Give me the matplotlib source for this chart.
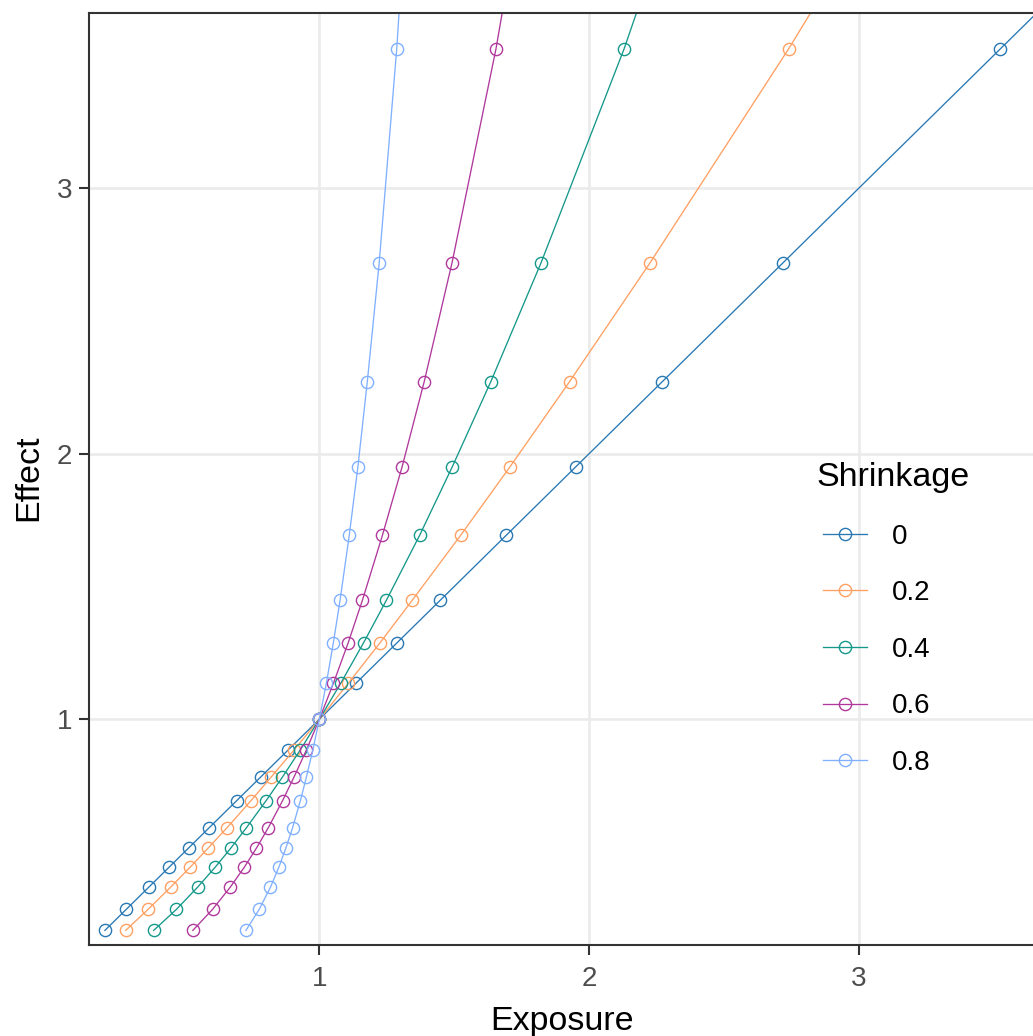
import matplotlib.pyplot as plt

plt.rcParams["font.family"] = ["Liberation Sans", "DejaVu Sans"]

# effect levels shared by every shrinkage curve (last one sits above the panel)
effect = [0.205, 0.284, 0.368, 0.443, 0.515, 0.592, 0.694, 0.782, 0.884, 1.0,
          1.135, 1.288, 1.449, 1.693, 1.951, 2.272, 2.719, 3.525, 4.88]

exposure_s0 = [0.205, 0.284, 0.368, 0.443, 0.515, 0.592, 0.694, 0.782, 0.884, 1.0,
               1.135, 1.288, 1.449, 1.693, 1.951, 2.272, 2.719, 3.525, 4.88]
exposure_s02 = [0.282, 0.365, 0.449, 0.521, 0.588, 0.658, 0.747, 0.821, 0.906, 1.0,
                1.107, 1.225, 1.345, 1.524, 1.707, 1.928, 2.226, 2.740, 3.554]
exposure_s04 = [0.386, 0.470, 0.549, 0.614, 0.672, 0.730, 0.803, 0.863, 0.929, 1.0,
                1.079, 1.164, 1.249, 1.372, 1.493, 1.636, 1.822, 2.130, 2.589]
exposure_s06 = [0.531, 0.604, 0.670, 0.722, 0.767, 0.811, 0.864, 0.906, 0.952, 1.0,
                1.052, 1.107, 1.160, 1.234, 1.307, 1.389, 1.492, 1.655, 1.885]
exposure_s08 = [0.728, 0.777, 0.819, 0.850, 0.876, 0.901, 0.930, 0.952, 0.976, 1.0,
                1.026, 1.052, 1.077, 1.111, 1.143, 1.178, 1.222, 1.287, 1.373]

shrinkage_labels = ["0", "0.2", "0.4", "0.6", "0.8"]
x_ticks = [1, 2, 3]
y_ticks = [1, 2, 3]

series = [exposure_s0, exposure_s02, exposure_s04, exposure_s06, exposure_s08]
colors = ["#2878B4", "#FFA062", "#14988A", "#B0389C", "#80B0FF"]

W, H = 1033, 1036
fig = plt.figure(figsize=(W / 100, H / 100), dpi=100)
ax = fig.add_axes([89 / W, (H - 945) / H, 944 / W, 932 / H])

for xs, label, color in zip(series, shrinkage_labels, colors):
    ax.plot(xs, effect, color=color, lw=0.95, marker="o", ms=8.8,
            mfc="none", mec=color, mew=1.0, label=label)

ax.set_xlim(0.1461, 3.646)
ax.set_ylim(0.150, 3.660)
ax.set_xticks(x_ticks)
ax.set_yticks(y_ticks)
ax.set_xticklabels([str(t) for t in x_ticks])
ax.set_yticklabels([str(t) for t in y_ticks])

ax.grid(True, color="#EBEBEB", lw=1.9)
ax.set_axisbelow(True)
for side in ["left", "bottom", "top"]:
    ax.spines[side].set_color("#333333")
    ax.spines[side].set_linewidth(1.5)
ax.spines["right"].set_visible(False)

ax.tick_params(axis="both", colors="#333333", width=1.5, length=7,
               labelsize=20, labelcolor="#4D4D4D")
ax.tick_params(axis="x", pad=8)
ax.tick_params(axis="y", pad=5)

fig.text(29 / W, 1 - 478 / H, "Effect", rotation=90, ha="center", va="center",
         fontsize=24.5, color="black")
fig.text(562 / W, 6 / H, "Exposure", ha="center", va="baseline",
         fontsize=24.5, color="black")

leg = ax.legend(title="Shrinkage", loc="upper left",
                bbox_to_anchor=(823 / W, 1 - 462 / H), bbox_transform=fig.transFigure,
                frameon=False, fontsize=20, title_fontsize=24.5,
                handlelength=1.6, handletextpad=0.88, labelspacing=1.1,
                borderpad=0, borderaxespad=0, alignment="left")
# title sits a little to the left of the keys, as in ggplot
leg.get_title().set_x(-7)

fig.savefig("out.png", dpi=100)
plt.close()
